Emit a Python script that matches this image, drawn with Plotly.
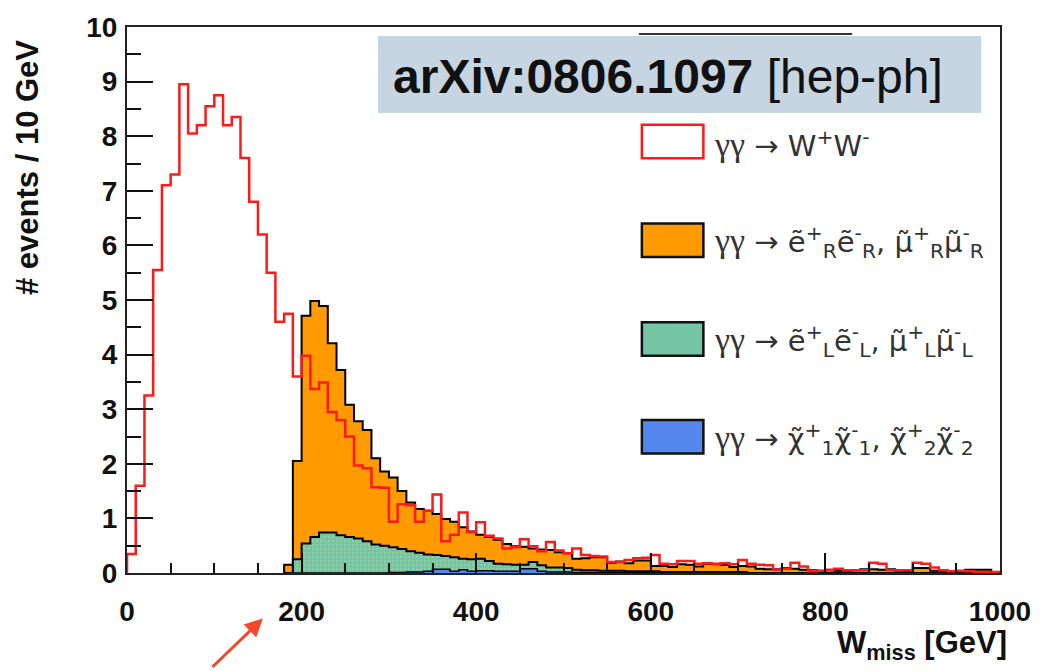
import numpy as np
import plotly.graph_objects as go

# ---------------- data ----------------
BIN_WIDTH = 10  # GeV
WW_START = 0
# gamma gamma -> W+W-  (bins 0..990 GeV)
ww = [0.35, 1.60, 3.25, 5.55, 7.10, 7.30, 8.95, 8.05, 8.20, 8.55,
      8.75, 8.20, 8.35, 7.60, 6.80, 6.20, 5.50, 4.60, 4.75, 3.60,
      3.98, 3.37, 3.49, 2.95, 2.80, 2.50, 1.97, 1.92, 1.57, 1.56,
      0.94, 1.26, 1.24, 0.94, 1.14, 1.44, 0.58, 0.70, 1.11, 0.75,
      0.93, 0.68, 0.63, 0.45, 0.47, 0.62, 0.49, 0.40, 0.57, 0.41,
      0.36, 0.45, 0.33, 0.31, 0.30, 0.20, 0.20, 0.24, 0.27, 0.28,
      0.33, 0.17, 0.16, 0.22, 0.22, 0.17, 0.18, 0.17, 0.18, 0.16,
      0.24, 0.17, 0.15, 0.14, 0.06, 0.08, 0.19, 0.12, 0.03, 0.04,
      0.06, 0.08, 0.05, 0.05, 0.05, 0.19, 0.17, 0.05, 0.05, 0.05,
      0.19, 0.17, 0.10, 0.05, 0.03, 0.04, 0.03, 0.02, 0.02, 0.02]

SUSY_START = 180
# gamma gamma -> selectron_R / smuon_R pairs (bins 180..990 GeV)
slep_r = [0.15, 1.80, 4.17, 4.32, 4.15, 3.47, 3.03, 2.42, 2.15, 2.04,
          1.58, 1.36, 1.28, 1.06, 0.89, 0.80, 0.80, 0.75, 0.68, 0.65,
          0.58, 0.51, 0.44, 0.44, 0.44, 0.37, 0.34, 0.33, 0.25, 0.29,
          0.32, 0.28, 0.27, 0.20, 0.22, 0.24, 0.25, 0.15, 0.17, 0.15,
          0.20, 0.20, 0.10, 0.11, 0.09, 0.14, 0.13, 0.10, 0.15, 0.14,
          0.13, 0.09, 0.11, 0.12, 0.08, 0.07, 0.07, 0.09, 0.08, 0.06,
          0.05, 0.04, 0.05, 0.04, 0.04, 0.05, 0.07, 0.07, 0.06, 0.07,
          0.04, 0.03, 0.09, 0.09, 0.04, 0.03, 0.02, 0.02, 0.06, 0.06,
          0.06, 0.02]
# gamma gamma -> selectron_L / smuon_L pairs
slep_l = [0.00, 0.25, 0.54, 0.66, 0.74, 0.74, 0.69, 0.66, 0.63, 0.58,
          0.52, 0.50, 0.46, 0.43, 0.38, 0.35, 0.31, 0.26, 0.24, 0.26,
          0.20, 0.22, 0.22, 0.18, 0.14, 0.13, 0.12, 0.07, 0.12, 0.11,
          0.08, 0.08, 0.07, 0.05, 0.04, 0.04, 0.03, 0.03, 0.03, 0.02,
          0.02, 0.02, 0.02, 0.01, 0.01, 0.01, 0.01, 0.01, 0.01, 0.01,
          0.01, 0.01, 0.01, 0.00, 0.00, 0.00, 0.00, 0.00, 0.00, 0.00,
          0.00, 0.00, 0.00, 0.00, 0.00, 0.00, 0.00, 0.00, 0.00, 0.00,
          0.00, 0.00, 0.00, 0.00, 0.00, 0.00, 0.00, 0.00, 0.00, 0.00,
          0.00, 0.00]
# gamma gamma -> chargino pairs
charg = [0.00, 0.00, 0.00, 0.00, 0.00, 0.00, 0.00, 0.00, 0.00, 0.00,
         0.00, 0.00, 0.01, 0.01, 0.02, 0.02, 0.03, 0.07, 0.07, 0.03,
         0.06, 0.03, 0.04, 0.04, 0.03, 0.03, 0.03, 0.08, 0.08, 0.03,
         0.02, 0.02, 0.02, 0.01, 0.01, 0.01, 0.01, 0.01, 0.01, 0.01,
         0.01, 0.01, 0.01, 0.01, 0.01, 0.01, 0.01, 0.01, 0.01, 0.01,
         0.01, 0.01, 0.01, 0.00, 0.00, 0.00, 0.00, 0.00, 0.00, 0.00,
         0.00, 0.00, 0.00, 0.00, 0.00, 0.00, 0.00, 0.00, 0.00, 0.00,
         0.00, 0.00, 0.00, 0.00, 0.00, 0.00, 0.00, 0.00, 0.00, 0.00,
         0.00, 0.00]

X_TICKS = [0, 200, 400, 600, 800, 1000]
Y_TICKS = list(range(0, 11))

# ---------------- helpers ----------------
def step_xy(start, vals, width=BIN_WIDTH):
    n = len(vals)
    x = [start] + [start + width * i for i in range(n)] + [start + width * n]
    y = [0.0] + list(vals) + [0.0]
    return x, y

# plot frame in pixels (for decorations only)
L, R, T, B = 127, 1007, 20, 573
W_FIG, H_FIG = 1043, 671
def px(xp):
    return (xp - L) / (R - L)
def py(yp):
    return (B - yp) / (B - T)

ORANGE = "#ff9a00"
TEAL = "#74c4a6"
BLUE = "#5588ee"
RED = "#ff1a1a"

blue_top = np.array(charg)
green_top = blue_top + np.array(slep_l)
orange_top = green_top + np.array(slep_r)

fig = go.Figure()

xo, yo = step_xy(SUSY_START, orange_top)
fig.add_trace(go.Scatter(x=xo, y=yo, mode="lines", line_shape="hv",
                         line=dict(color="black", width=2),
                         fill="tozeroy", fillcolor=ORANGE, hoverinfo="skip"))
xg, yg = step_xy(SUSY_START, green_top)
fig.add_trace(go.Scatter(x=xg, y=yg, mode="lines", line_shape="hv",
                         line=dict(color="black", width=2),
                         fill="tozeroy", fillcolor=TEAL,
                         fillpattern=dict(shape=".", bgcolor=TEAL, fgcolor="#b9d88e",
                                          size=4, solidity=0.25),
                         hoverinfo="skip"))
xb, yb = step_xy(SUSY_START, blue_top)
fig.add_trace(go.Scatter(x=xb, y=yb, mode="lines", line_shape="hv",
                         line=dict(color="black", width=1.5),
                         fill="tozeroy", fillcolor=BLUE, hoverinfo="skip"))
xw, yw = step_xy(WW_START, ww)
fig.add_trace(go.Scatter(x=xw, y=yw, mode="lines", line_shape="hv",
                         line=dict(color=RED, width=2.5), hoverinfo="skip"))

tickfont = dict(family="Liberation Sans, Arial", size=28, color="#111", weight="bold")

fig.update_layout(
    width=W_FIG, height=H_FIG,
    margin=dict(l=L, r=W_FIG - R, t=T, b=H_FIG - B),
    paper_bgcolor="white", plot_bgcolor="white",
    showlegend=False,
    xaxis=dict(range=[0, 1000], tickvals=X_TICKS, ticktext=[str(v) for v in X_TICKS],
               ticks="inside", ticklen=20, tickwidth=2, tickcolor="#111",
               minor=dict(dtick=50, ticks="inside", ticklen=10, tickwidth=2, tickcolor="#111"),
               showline=True, linecolor="#222", linewidth=2, mirror=True,
               showgrid=False, zeroline=False, tickfont=tickfont, ticklabelstandoff=12),
    yaxis=dict(range=[0, 10], tickvals=Y_TICKS, ticktext=[str(v) for v in Y_TICKS],
               ticks="inside", ticklen=26, tickwidth=2, tickcolor="#111",
               minor=dict(dtick=0.5, ticks="inside", ticklen=14, tickwidth=2, tickcolor="#111"),
               showline=True, linecolor="#222", linewidth=2, mirror=True,
               showgrid=False, zeroline=False, tickfont=tickfont, ticklabelstandoff=2),
)

shapes = []
annotations = []

# remnant of a box outline above the label
shapes.append(dict(type="line", xref="paper", yref="paper",
                   x0=px(643), x1=px(858), y0=py(27), y1=py(27),
                   line=dict(color="#333", width=2), layer="above"))
# arXiv label box
shapes.append(dict(type="rect", xref="paper", yref="paper",
                   x0=px(380), x1=px(988), y0=py(107), y1=py(29),
                   fillcolor="#c6d5e1", line=dict(width=0), layer="above"))
annotations.append(dict(xref="paper", yref="paper", x=px(672), y=py(70),
                        xanchor="center", yanchor="middle", showarrow=False,
                        text="<b>arXiv:0806.1097</b> [hep-ph]",
                        font=dict(family="Liberation Sans, Arial", size=48, color="#111")))

# legend
GG = "<span style=\"font-family:'Liberation Serif','DejaVu Serif',serif;font-size:34px\">γγ</span> → "
legend_items = [
    (136, "white", RED, GG + "W<sup>+</sup>W<sup>-</sup>"),
    (236, ORANGE, "#111",
     GG + "ẽ<sup>+</sup><sub>R</sub>ẽ<sup>-</sup><sub>R</sub>, "
     "μ̃<sup>+</sup><sub>R</sub>μ̃<sup>-</sup><sub>R</sub>"),
    (336, TEAL, "#111",
     GG + "ẽ<sup>+</sup><sub>L</sub>ẽ<sup>-</sup><sub>L</sub>, "
     "μ̃<sup>+</sup><sub>L</sub>μ̃<sup>-</sup><sub>L</sub>"),
    (435, BLUE, "#111",
     GG + "χ̃<sup>+</sup><sub>1</sub>χ̃<sup>-</sup><sub>1</sub>, "
     "χ̃<sup>+</sup><sub>2</sub>χ̃<sup>-</sup><sub>2</sub>"),
]
for yc, fc, lc, txt in legend_items:
    shapes.append(dict(type="rect", xref="paper", yref="paper",
                       x0=px(646), x1=px(708), y0=py(yc + 17), y1=py(yc - 17),
                       fillcolor=fc, line=dict(color=lc, width=2.5), layer="above"))
    annotations.append(dict(xref="paper", yref="paper", x=px(717), y=py(yc + 2),
                            xanchor="left", yanchor="middle", showarrow=False,
                            text=txt,
                            font=dict(family="DejaVu Sans, Liberation Sans", size=29, color="#333")))

# axis titles
annotations.append(dict(xref="paper", yref="paper", x=px(26), y=py(162),
                        xanchor="center", yanchor="middle", showarrow=False, textangle=-90,
                        text="<b># events / 10 GeV</b>",
                        font=dict(family="Liberation Sans, Arial", size=31, color="#111")))
annotations.append(dict(xref="paper", yref="paper", x=px(1016), y=py(624),
                        xanchor="right", yanchor="top", showarrow=False,
                        text="<b>W<sub>miss</sub> [GeV]</b>",
                        font=dict(family="Liberation Sans, Arial", size=31, color="#111")))

# red arrow
annotations.append(dict(xref="paper", yref="paper", x=px(264), y=py(619),
                        ax=-52, ay=50, axref="pixel", ayref="pixel",
                        showarrow=True, arrowhead=2, arrowsize=1.2, arrowwidth=3,
                        arrowcolor="#f04a2a", text=""))

fig.update_layout(shapes=shapes, annotations=annotations)
fig.write_html("out.html")
